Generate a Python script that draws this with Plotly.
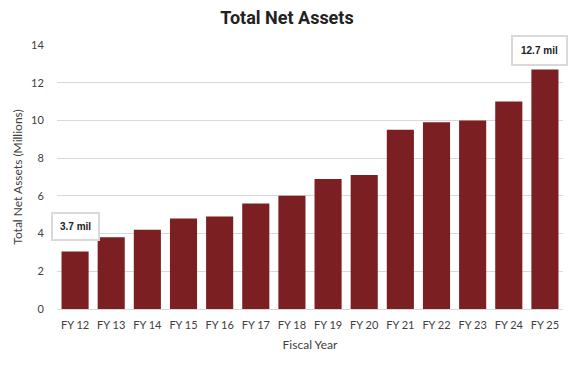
import plotly.graph_objects as go

years = ["FY 12", "FY 13", "FY 14", "FY 15", "FY 16", "FY 17", "FY 18",
         "FY 19", "FY 20", "FY 21", "FY 22", "FY 23", "FY 24", "FY 25"]
net_assets = [3.05, 3.8, 4.2, 4.8, 4.9, 5.6, 6.0, 6.9, 7.1, 9.5, 9.9, 10.0, 11.0, 12.7]
y_ticks = [0, 2, 4, 6, 8, 10, 12, 14]

bar_color = "#7B1F22"
font_main = "Lato, 'Open Sans', sans-serif"

fig = go.Figure(go.Bar(x=years, y=net_assets, marker=dict(color=bar_color, line=dict(width=0))))

fig.update_layout(
    width=574, height=366,
    margin=dict(l=57, r=11, t=45, b=57, autoexpand=False),
    paper_bgcolor="white", plot_bgcolor="white",
    bargap=0.25,
    showlegend=False,
    title=dict(text="<b>Total Net Assets</b>", x=0.5, xanchor="center", y=0.951, yanchor="middle",
               font=dict(family="'Liberation Sans Narrow', 'Roboto', sans-serif", size=18, color="#222222")),
    font=dict(family=font_main, size=11, color="#404040"),
)
fig.update_xaxes(
    automargin=False, range=[-0.5, len(years) - 0.5],
    title=dict(text="Fiscal Year", font=dict(size=12, color="#404040"), standoff=10),
    showline=True, linecolor="#d9d9d9", linewidth=1, ticks="outside", ticklen=6, tickcolor="white",
    showgrid=False, tickfont=dict(size=11, color="#404040"),
)
fig.update_yaxes(
    automargin=False,
    title=dict(text="Total Net Assets (Millions)", font=dict(size=12, color="#404040"), standoff=5),
    range=[0, 14], tickvals=y_ticks, showgrid=True, gridcolor="#d9d9d9", gridwidth=1,
    zeroline=False, ticks="outside", ticklen=10, tickcolor="white",
    tickfont=dict(size=11, color="#404040"),
)

fig.add_annotation(x=years[0], y=4.35, xref="x", yref="y", text="<b>3.7 mil</b>", showarrow=False,
                   bgcolor="white", bordercolor="#d9d9d9", borderwidth=2, borderpad=7,
                   font=dict(size=10, color="#222222", family="'Liberation Sans Narrow', sans-serif"))
fig.add_annotation(x=years[-1], y=13.73, xref="x", yref="y", xshift=-5, text="<b>12.7 mil</b>", showarrow=False,
                   bgcolor="white", bordercolor="#d9d9d9", borderwidth=2, borderpad=8,
                   font=dict(size=10, color="#222222", family="'Liberation Sans Narrow', sans-serif"))

fig.write_html("out.html", config={"displayModeBar": False},
               post_script="document.body.style.margin='0';document.body.style.overflow='hidden';")
